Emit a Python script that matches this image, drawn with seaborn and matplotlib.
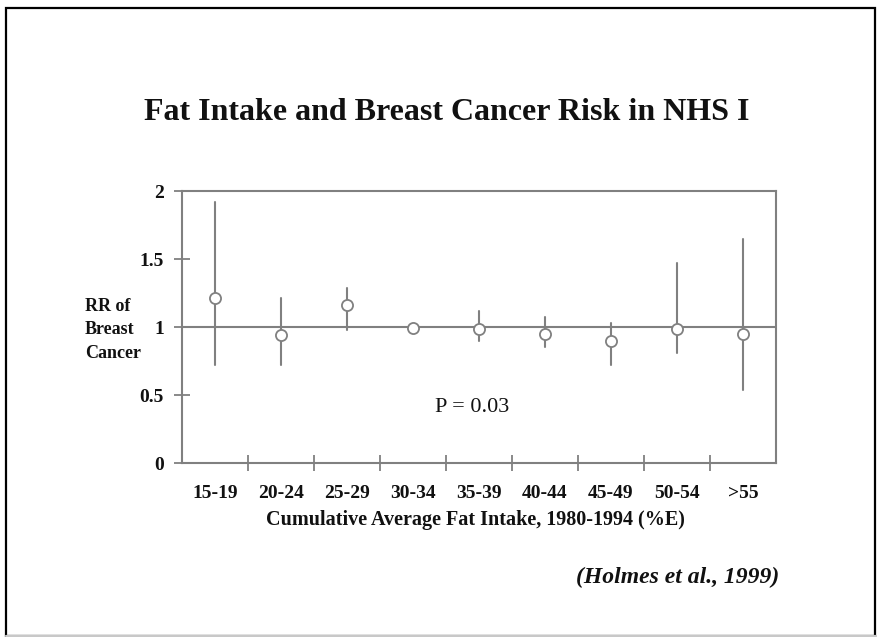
import numpy as np
import pandas as pd
import matplotlib
matplotlib.use("Agg")
import matplotlib.pyplot as plt
import seaborn as sns
from matplotlib.patches import Rectangle
from matplotlib.lines import Line2D

# Relative risk of breast cancer by cumulative average fat intake (%E)
categories = ["15-19", "20-24", "25-29", "30-34", "35-39", "40-44", "45-49", "50-54", ">55"]
rr = [1.21, 0.94, 1.16, 0.99, 0.985, 0.95, 0.90, 0.985, 0.95]
ci_lower = [0.72, 0.72, 0.98, 0.96, 0.90, 0.85, 0.72, 0.81, 0.54]
ci_upper = [1.92, 1.21, 1.29, 1.02, 1.12, 1.07, 1.03, 1.47, 1.65]
y_ticks = [0, 0.5, 1, 1.5, 2]
y_tick_labels = ["0", "0.5", "1", "1.5", "2"]

# Long table: per group the estimate and both interval bounds; the median is the
# estimate and the 100% percentile interval spans the confidence interval.
df = pd.DataFrame({
    "group": np.repeat(categories, 3),
    "value": np.ravel(np.column_stack([ci_lower, rr, ci_upper])),
})

sns.set_theme(style="white")
plt.rcParams["font.family"] = ["Liberation Serif", "DejaVu Serif"]

W, H = 877, 637
fig = plt.figure(figsize=(W / 100, H / 100), dpi=100)
fig.patch.set_facecolor("white")

# Slide frame
fig.add_artist(Rectangle((6 / W, 1 - 636 / H), 869 / W, 628 / H,
                         transform=fig.transFigure, fill=False,
                         edgecolor="black", linewidth=1.6))
fig.add_artist(Line2D([6 / W, 876 / W], [1 - 636 / H, 1 - 636 / H],
                      transform=fig.transFigure, color="#c8c8c8", linewidth=1.6))

left, right, top, bottom = 182, 776, 191, 463
ax = fig.add_axes([left / W, 1 - bottom / H, (right - left) / W, (bottom - top) / H])
ax.set_facecolor("white")

grey = "#808080"
ax.axhline(1, color=grey, linewidth=1.5, zorder=1)

sns.pointplot(data=df, x="group", y="value", order=categories,
              estimator="median", errorbar=("pi", 100),
              color=grey, linestyle="none", marker="o", markersize=8,
              markerfacecolor="white", markeredgecolor=grey, markeredgewidth=1.3,
              err_kws={"linewidth": 1.5}, capsize=0, ax=ax)

for ln in ax.lines:
    if ln.get_marker() == "o":
        ln.set_zorder(5)

ax.set_xlim(-0.5, len(categories) - 0.5)
ax.set_ylim(0, 2)
ax.set_xlabel("")
ax.set_ylabel("")

for sp in ax.spines.values():
    sp.set_visible(True)
    sp.set_color(grey)
    sp.set_linewidth(1.5)

ax.tick_params(which="both", bottom=True, left=True, top=False, right=False)

ax.set_yticks(y_ticks)
ax.set_yticklabels(y_tick_labels, fontsize=14, fontweight="bold", color="#111111")
ax.tick_params(axis="y", direction="inout", length=12, width=1.3, color=grey, pad=7)

ax.set_xticks(np.arange(len(categories)))
ax.set_xticklabels(categories, fontsize=14, fontweight="bold", color="#111111")
ax.tick_params(axis="x", which="major", length=0, pad=16)
ax.set_xticks(np.arange(len(categories) - 1) + 0.5, minor=True)
ax.tick_params(axis="x", which="minor", direction="inout", length=12, width=1.3, color=grey)

fig.text(447 / W, 1 - 112 / H, "Fat Intake and Breast Cancer Risk in NHS I",
         ha="center", va="center", fontsize=23, fontweight="bold", color="#111111")
fig.text(85 / W, 1 - 330 / H, "RR of\nBreast\nCancer", ha="left", va="center",
         multialignment="left", fontsize=13, fontweight="bold", linespacing=1.5,
         color="#111111")
fig.text(472 / W, 1 - 408 / H, "P = 0.03", ha="center", va="center",
         fontsize=16, color="#111111")
fig.text(475 / W, 1 - 520 / H, "Cumulative Average Fat Intake, 1980-1994 (%E)",
         ha="center", va="center", fontsize=14.5, fontweight="bold", color="#111111")
fig.text(779 / W, 1 - 577 / H, "(Holmes et al., 1999)", ha="right", va="center",
         fontsize=17, fontweight="bold", fontstyle="italic", color="#111111")

fig.savefig("out.png", dpi=100, facecolor="white")
